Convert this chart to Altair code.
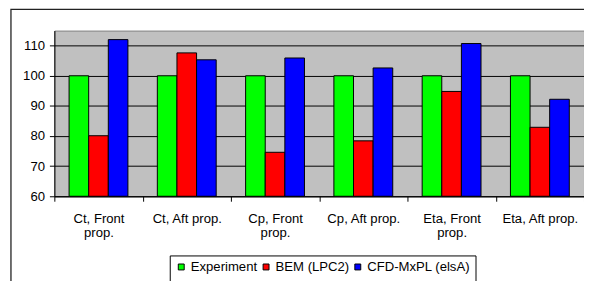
import altair as alt
import pandas as pd

categories = ["Ct, Front prop.", "Ct, Aft prop.", "Cp, Front prop.",
              "Cp, Aft prop.", "Eta, Front prop.", "Eta, Aft prop."]
series_names = ["Experiment", "BEM (LPC2)", "CFD-MxPL (elsA)"]
experiment = [100, 100, 100, 100, 100, 100]
bem = [80.1, 107.6, 74.6, 78.4, 94.8, 82.9]
cfd = [112.0, 105.3, 105.9, 102.6, 110.7, 92.2]
colors = ["#00FF00", "#FF0000", "#0000FF"]
y_ticks = [60, 70, 80, 90, 100, 110]

rows = []
for name, vals in zip(series_names, [experiment, bem, cfd]):
    for c, v in zip(categories, vals):
        rows.append({"category": c, "series": name, "value": v})
df = pd.DataFrame(rows)

FONT = "Liberation Sans"
FS = 13.3

bars = alt.Chart(df).mark_bar(stroke="black", strokeWidth=1, opacity=1).encode(
    x=alt.X("category:N", sort=categories, title=None,
            scale=alt.Scale(paddingInner=0, paddingOuter=0),
            axis=alt.Axis(labelAngle=0, tickBand="extent", tickSize=5,
                          labelPadding=11, labelLineHeight=14,
                          labelExpr="indexof(datum.label, 'Front') >= 0 ? [replace(datum.label, ' prop.', ''), 'prop.'] : datum.label")),
    xOffset=alt.XOffset("series:N", sort=series_names,
                        scale=alt.Scale(paddingInner=0, paddingOuter=0.75)),
    y=alt.Y("value:Q", title=None,
            scale=alt.Scale(domain=[60, 115], nice=False, zero=False),
            axis=alt.Axis(values=y_ticks, grid=True, gridColor="black",
                          gridWidth=1, tickSize=5, labelPadding=5)),
    y2=alt.datum(60),
    color=alt.Color("series:N", sort=series_names,
                    scale=alt.Scale(domain=series_names, range=colors),
                    legend=alt.Legend(title=" ", titleOrient="bottom",
                                      titleFontSize=14, titlePadding=4,
                                      orient="none", legendX=117,
                                      legendY=228, direction="horizontal")),
)

border = alt.Chart(pd.DataFrame({"a": [0]})).mark_rect(
    filled=False, stroke="#222222", strokeWidth=1.3
).encode(
    x=alt.value(-44), x2=alt.value(800), y=alt.value(-21.5), y2=alt.value(600)
)

chart = alt.layer(border, bars).properties(
    width=537, height=168,
    padding={"left": 47, "top": 21, "right": 0, "bottom": 84},
    autosize=alt.AutoSizeParams(type="none"),
).configure_view(
    fill="#C0C0C0", stroke="#808080", strokeWidth=1
).configure_axis(
    domainColor="black", tickColor="black", labelColor="black",
    labelFont=FONT, labelFontSize=FS, domainWidth=1, tickWidth=1
).configure_legend(
    strokeColor="black", fillColor="white", padding=5, cornerRadius=0,
    symbolType="square", symbolSize=36, symbolStrokeColor="black",
    symbolStrokeWidth=1, symbolOpacity=1, labelFont=FONT, labelFontSize=FS,
    labelColor="black", labelOffset=3, columnPadding=2
)

chart.save("out.html", embed_options={"renderer": "svg", "actions": False})
